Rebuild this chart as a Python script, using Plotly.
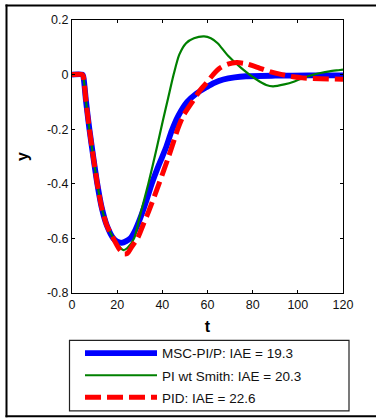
import plotly.graph_objects as go

# ---------------- data ----------------
series_names = ["MSC-PI/P: IAE = 19.3", "PI wt Smith: IAE = 20.3", "PID: IAE = 22.6"]

t_msc = [0, 4.6, 5.0, 6.2, 7.7, 9.45, 11.2, 13.1, 15.4, 18.3, 20, 22, 24, 26, 28, 30.5, 33, 35.3,
         38.5, 41.5, 44.2, 47, 51, 55, 59.6, 63, 67, 72, 77, 90, 105, 120]
y_msc = [0, 0, -0.006, -0.097, -0.2, -0.303, -0.4, -0.485, -0.552, -0.6, -0.612, -0.616, -0.61,
         -0.598, -0.57, -0.52, -0.46, -0.4, -0.33, -0.27, -0.205, -0.152, -0.1, -0.07, -0.046,
         -0.03, -0.018, -0.01, -0.006, -0.004, -0.003, -0.003]

t_smith = [0, 4.6, 5.0, 6.2, 7.7, 9.45, 11.2, 13.1, 15.4, 18.5, 21, 22.7, 24.5, 27.5, 30, 33.8, 37.5,
           40.2, 42.6, 45, 47.5, 50.5, 54, 58.5, 61.5, 64.5, 69, 75, 81.7, 86, 89, 94, 98.5, 102.4,
           107, 110, 114, 118, 120]
y_smith = [0, 0, -0.006, -0.097, -0.2, -0.303, -0.4, -0.485, -0.552, -0.6, -0.63, -0.643, -0.635,
           -0.6, -0.52, -0.4, -0.27, -0.17, -0.085, 0.0, 0.073, 0.115, 0.133, 0.14, 0.133, 0.115,
           0.07, 0.024, -0.018, -0.038, -0.043, -0.036, -0.025, -0.012, 0.0, 0.006, 0.012, 0.016,
           0.018]

t_pid = [0, 4.6, 5.0, 6.2, 7.7, 9.45, 11.2, 13.1, 15.4, 18.3, 21, 23, 24.5, 26.5, 29, 31.5, 34,
         38.5, 42.8, 44.8, 46.8, 49.3, 53.5, 56.5, 59.6, 62.5, 65.5, 69, 73, 77, 83, 88, 93, 98,
         102, 110, 120]
y_pid = [0, 0, -0.006, -0.097, -0.2, -0.303, -0.4, -0.485, -0.552, -0.6, -0.64, -0.657, -0.655,
         -0.63, -0.6, -0.55, -0.5, -0.4, -0.3, -0.25, -0.2, -0.15, -0.097, -0.06, -0.03, 0.0,
         0.024, 0.038, 0.044, 0.04, 0.024, 0.01, 0.0, -0.008, -0.012, -0.015, -0.017]

x_ticks = [0, 20, 40, 60, 80, 100, 120]
x_tick_labels = ["0", "20", "40", "60", "80", "100", "120"]
y_ticks = [0.2, 0, -0.2, -0.4, -0.6, -0.8]
y_tick_labels = ["0.2", "0", "-0.2", "-0.4", "-0.6", "-0.8"]

# ---------------- layout geometry (pixels) ----------------
W, H = 376, 418
PL, PR, PT, PB = 72, 343, 19.5, 293   # plot area edges


def px_x(px):
    return (px - PL) / (PR - PL)


def px_y(py):
    return (PB - py) / (PB - PT)


FONT = "Liberation Sans, Arial, Helvetica, sans-serif"

fig = go.Figure()
fig.add_trace(go.Scatter(x=t_msc, y=y_msc, mode="lines", name=series_names[0], legendgroup="a",
                         line=dict(color="#0000FF", width=5.8, shape="spline", smoothing=0.7)))
fig.add_trace(go.Scatter(x=t_smith, y=y_smith, mode="lines", name=series_names[1], legendgroup="b",
                         line=dict(color="#008000", width=2.2, shape="spline", smoothing=0.7)))
fig.add_trace(go.Scatter(x=t_pid, y=y_pid, mode="lines", name=series_names[2], legendgroup="c",
                         line=dict(color="#FF0000", width=5, dash="16px,6px", shape="spline",
                                   smoothing=0.7)))

axis_common = dict(showgrid=False, zeroline=False, showline=True, linecolor="black", linewidth=1,
                   mirror="ticks", ticks="inside", ticklen=3, tickcolor="black",
                   tickfont=dict(family=FONT, size=12.5, color="#111"))

fig.update_xaxes(range=[0, 120], tickvals=x_ticks, ticktext=x_tick_labels,
                 title=dict(text="<b>t</b>", font=dict(family=FONT, size=16, color="black"),
                            standoff=9),
                 **axis_common)
fig.update_yaxes(range=[-0.8, 0.2], tickvals=y_ticks, ticktext=y_tick_labels,
                 title=dict(text="<b>y</b>", font=dict(family=FONT, size=16, color="black"),
                            standoff=14),
                 **axis_common)

frame = dict(color="black", width=2)
fig.update_layout(
    width=W, height=H,
    margin=dict(l=PL, r=W - PR, t=PT, b=H - PB, autoexpand=False),
    paper_bgcolor="white", plot_bgcolor="white",
    showlegend=True,
    legend=dict(x=px_x(80), y=px_y(338), xanchor="left", yanchor="top",
                bgcolor="rgba(0,0,0,0)", borderwidth=0, itemwidth=72,
                traceorder="grouped", tracegroupgap=1.5,
                font=dict(family=FONT, size=13.5, color="#111")),
    shapes=[
        # outer figure frame (top, left, bottom edges; right edge lies outside the picture)
        dict(type="line", xref="paper", yref="paper",
             x0=px_x(5.5), x1=px_x(W), y0=px_y(5), y1=px_y(5), line=frame),
        dict(type="line", xref="paper", yref="paper",
             x0=px_x(6.5), x1=px_x(6.5), y0=px_y(4), y1=px_y(417.5), line=frame),
        dict(type="line", xref="paper", yref="paper",
             x0=px_x(5.5), x1=px_x(W), y0=px_y(416.5), y1=px_y(416.5), line=frame),
        # legend frame
        dict(type="rect", xref="paper", yref="paper",
             x0=px_x(69.5), x1=px_x(349), y0=px_y(411), y1=px_y(340.5),
             line=dict(color="#222", width=1.2), fillcolor="rgba(0,0,0,0)"),
    ],
)

fig.write_html("out.html", config={"displayModeBar": False},
               post_script="document.body.style.margin='0';document.body.style.overflow='hidden';")
